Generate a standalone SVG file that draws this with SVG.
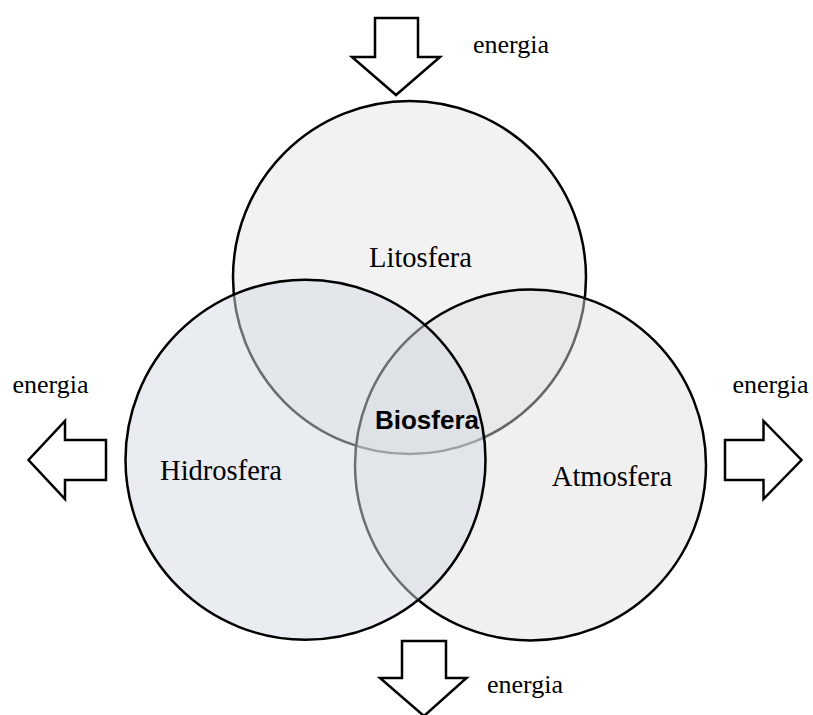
<svg xmlns="http://www.w3.org/2000/svg" width="813" height="715" viewBox="0 0 813 715">
  <style>
    .sphere { stroke: #000; stroke-width: 2.5; }
    .arrow { fill: #fff; stroke: #000; stroke-width: 2.5; stroke-linejoin: miter; }
    .label { font-family: "Liberation Serif", "Times New Roman", serif; font-size: 28.5px; fill: #000; text-anchor: middle; }
    .flow { font-family: "Liberation Serif", "Times New Roman", serif; font-size: 26px; fill: #000; }
    .core { font-family: "Liberation Sans", Arial, sans-serif; font-size: 26px; font-weight: bold; fill: #000; text-anchor: middle; }
  </style>
  <rect width="813" height="715" fill="#fff"/>

  <!-- spheres, drawn bottom to top -->
  <g id="litosfera">
    <circle class="sphere" cx="409.5" cy="277.5" r="176.5" fill="#f2f2f2"/>
    <text class="label" x="420.5" y="266.5">Litosfera</text>
  </g>
  <g id="atmosfera">
    <circle class="sphere" cx="530.5" cy="465" r="175.5" fill="#dedede" fill-opacity="0.46"/>
    <text class="label" x="612" y="486">Atmosfera</text>
  </g>
  <g id="hidrosfera">
    <circle class="sphere" cx="305.5" cy="459.7" r="180" fill="#d3d9e3" fill-opacity="0.5"/>
    <text class="label" x="221" y="479.5">Hidrosfera</text>
  </g>
  <g id="biosfera">
    <text class="core" x="427" y="429.3">Biosfera</text>
  </g>

  <!-- energy flows -->
  <g id="connectors">
    <polygon class="arrow" points="375,18 418,18 418,57 440,57 396,95 352,57 375,57"/>
    <polygon class="arrow" points="106,440 106,480 65,480 65,499 28.5,460 65,421 65,440"/>
    <polygon class="arrow" points="725,440 763.5,440 763.5,421 801.5,460 763.5,499 763.5,480 725,480"/>
    <polygon class="arrow" points="402,641 446,641 446,678 466.5,678 424,716 380,678 402,678"/>
  </g>
  <g id="energy-labels">
    <text class="flow" x="473" y="53.3">energia</text>
    <text class="flow" x="12.5" y="393.3">energia</text>
    <text class="flow" x="732.5" y="393.3">energia</text>
    <text class="flow" x="487" y="693.3">energia</text>
  </g>
</svg>
